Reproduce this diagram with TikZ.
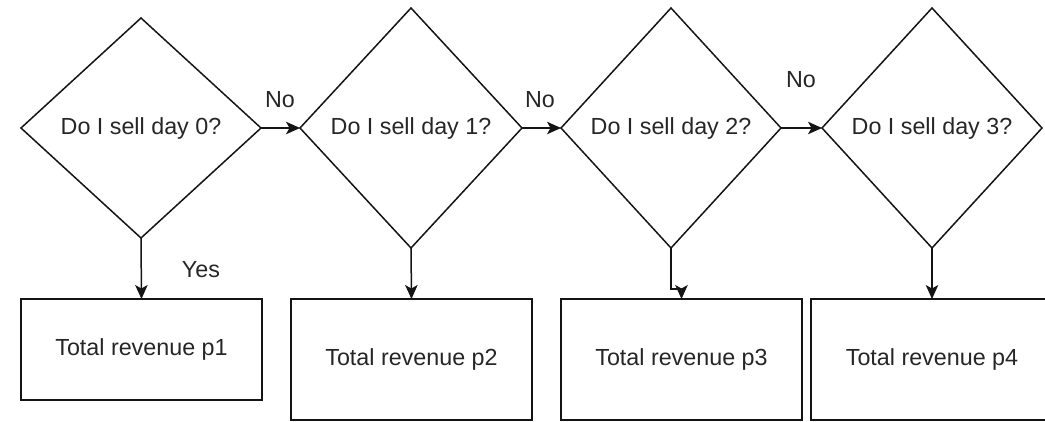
\documentclass[tikz,border=0pt]{standalone}
\usepackage{fontspec}
\setmainfont{Liberation Sans}
\usetikzlibrary{shapes.geometric,arrows.meta}
\definecolor{txt}{RGB}{38,38,38}
\definecolor{ln}{RGB}{20,20,20}
\begin{document}
\begin{tikzpicture}[x=1pt,y=-1pt,
  every node/.style={font=\fontsize{23.3}{28}\selectfont, text=txt},
  dec/.style={diamond, draw=ln, line width=1.5pt, inner sep=0pt, outer sep=0pt},
  res/.style={rectangle, draw=ln, line width=1.5pt, inner sep=0pt, outer sep=0pt, minimum width=241pt},
  conn/.style={draw=ln, line width=1.5pt, arrows={-Stealth[length=14pt,width=12.5pt,inset=3.5pt]}},
  lbl/.style={inner sep=0pt}]
\useasboundingbox (0,0) rectangle (1045,421);
\clip (0,0) rectangle (1045,421);
\node[dec, minimum width=240pt, minimum height=220pt] (d1) at (141,128) {Do I sell day 0?};
\node[dec, minimum width=222pt, minimum height=240pt] (d2) at (411,128) {Do I sell day 1?};
\node[dec, minimum width=220pt, minimum height=240pt] (d3) at (671,128) {Do I sell day 2?};
\node[dec, minimum width=220pt, minimum height=240pt] (d4) at (932,128) {Do I sell day 3?};
\node[res, minimum height=101pt] (b1) at (141.5,349.5) {Total revenue p1};
\node[res, minimum height=121pt] (b2) at (411.5,359.5) {Total revenue p2};
\node[res, minimum height=121pt] (b3) at (681.5,359.5) {Total revenue p3};
\node[res, minimum width=242pt, minimum height=121pt] (b4) at (932,359.5) {Total revenue p4};
\coordinate (k3) at (681.5,289);
\draw[conn] (d1.east) -- (d2.west);
\draw[conn] (d2.east) -- (d3.west);
\draw[conn] (d3.east) -- (d4.west);
\draw[conn] (d1.south) -- (b1.north);
\draw[conn] (d2.south) -- (b2.north);
\draw[conn] (d3.south) |- (k3) -- (b3.north);
\draw[conn] (d4.south) -- (b4.north);
\node[lbl] (n1) at (280,100) {No};
\node[lbl] (n2) at (540,100) {No};
\node[lbl] (n3) at (801,80) {No};
\node[lbl] (y1) at (201,270) {Yes};
\end{tikzpicture}
\end{document}
